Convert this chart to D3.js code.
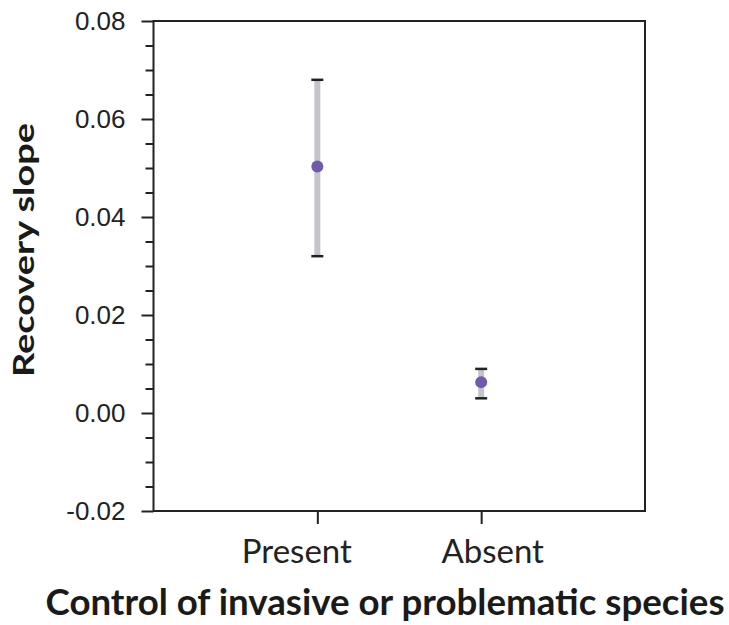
<!DOCTYPE html>
<html><head><meta charset="utf-8">
<script src="https://cdn.jsdelivr.net/npm/d3@7"></script>
<style>body{margin:0;background:#fff}</style>
</head><body>
<svg id="c" width="729" height="625"></svg>
<script>
const categories = ["Present", "Absent"];
const means = [0.0503, 0.0063];
const lower = [0.032, 0.003];
const upper = [0.068, 0.009];
const yTicks = [-0.02, 0.00, 0.02, 0.04, 0.06, 0.08];
const yLabel = "Recovery slope";
const xLabel = "Control of invasive or problematic species";

const svg = d3.select("#c");
const L = 153.5, R = 645, T = 21, B = 511;
const x = d3.scalePoint().domain(categories).range([L, R]).padding(1);
const y = d3.scaleLinear().domain([-0.02, 0.08]).range([B, T]);

// frame
svg.append("rect").attr("x", L).attr("y", T).attr("width", R - L).attr("height", B - T)
  .attr("fill", "none").attr("stroke", "#222").attr("stroke-width", 2);

// y axis
const yAxis = d3.axisLeft(y).tickValues(yTicks).tickSize(12).tickPadding(16)
  .tickFormat(d => d.toFixed(2));
const ya = svg.append("g").attr("transform", `translate(${L},0)`).call(yAxis);
ya.select(".domain").remove();
ya.selectAll("line").attr("stroke", "#222").attr("stroke-width", 2);
ya.selectAll("text").style("font-family", "'Liberation Sans', Arial, sans-serif").style("font-size", "26px").attr("fill", "#222");
const minor = d3.range(-0.02, 0.0801, 0.005).filter(v => !yTicks.some(t => Math.abs(t - v) < 1e-9));
const ym = svg.append("g").attr("transform", `translate(${L},0)`).call(d3.axisLeft(y).tickValues(minor).tickSize(8).tickFormat(""));
ym.select(".domain").remove();
ym.selectAll("line").attr("stroke", "#222").attr("stroke-width", 2);

// x axis
const labelShift = {"Present": -21, "Absent": 11};
const xa = svg.append("g").attr("transform", `translate(0,${B})`).call(d3.axisBottom(x).tickSize(13).tickPadding(0));
xa.select(".domain").remove();
xa.selectAll("line").attr("stroke", "#222").attr("stroke-width", 2);
xa.selectAll("text").attr("dy", null).attr("y", 52).attr("dx", d => labelShift[d])
  .style("font-family", "Lato, sans-serif").style("font-size", "33px").attr("fill", "#222");

// error bars
const g = svg.append("g");
categories.forEach((c, i) => {
  g.append("line").attr("x1", x(c)).attr("x2", x(c)).attr("y1", y(upper[i])).attr("y2", y(lower[i]))
    .attr("stroke", "#c4c5ca").attr("stroke-width", 6);
  [upper[i], lower[i]].forEach(v => {
    g.append("line").attr("x1", x(c) - 6).attr("x2", x(c) + 6).attr("y1", y(v)).attr("y2", y(v))
      .attr("stroke", "#222").attr("stroke-width", 2.5);
  });
  g.append("circle").attr("cx", x(c)).attr("cy", y(means[i])).attr("r", 6).attr("fill", "#7159ab");
});

// labels
svg.append("text").attr("x", 385).attr("y", 615).attr("text-anchor", "middle")
  .attr("textLength", 679).attr("lengthAdjust", "spacingAndGlyphs")
  .style("font-family", "Lato, sans-serif").style("font-weight", "bold").style("font-size", "36px").attr("fill", "#1a1a1a")
  .text(xLabel);
svg.append("text").attr("transform", `translate(34,250) rotate(-90)`).attr("text-anchor", "middle")
  .attr("textLength", 254).attr("lengthAdjust", "spacingAndGlyphs")
  .style("font-family", "Lato, sans-serif").style("font-weight", "bold").style("font-size", "28px").attr("fill", "#1a1a1a")
  .text(yLabel);
</script>
</body></html>
